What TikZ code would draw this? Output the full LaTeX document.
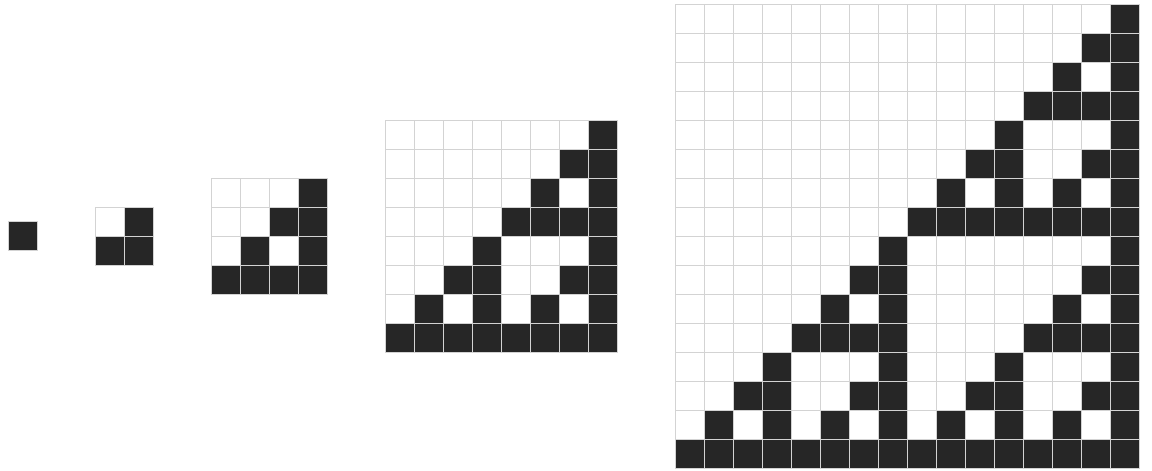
\documentclass[tikz,border=0pt]{standalone}
\definecolor{cellblack}{HTML}{262626}
\definecolor{gridgray}{HTML}{D3D3D3}
\tikzset{cell/.style={draw=gridgray, line width=0.9pt}}
\begin{document}
\begin{tikzpicture}[x=1pt,y=-1pt]
\useasboundingbox (0,0) rectangle (1152,471);
\foreach \X/\Y/\N in {8/221/1, 95/207/2, 211/178/4, 385/120/8, 675/4/16}{
  \pgfmathtruncatemacro\M{\N-1}
  \foreach \r in {0,...,\M}{
    \foreach \c in {0,...,\M}{
      \pgfmathtruncatemacro\ii{\M-\c}
      \pgfmathtruncatemacro\ok{(1-mod(\ii,2)*(1-mod(\r,2)))*(1-mod(floor(\ii/2),2)*(1-mod(floor(\r/2),2)))*(1-mod(floor(\ii/4),2)*(1-mod(floor(\r/4),2)))*(1-mod(floor(\ii/8),2)*(1-mod(floor(\r/8),2)))}
      \ifnum\ok=1 \def\fc{cellblack}\else\def\fc{white}\fi
      \draw[cell, fill=\fc] (\X+\c*29, \Y+\r*29) rectangle ++(29,29);
    }
  }
}
\end{tikzpicture}
\end{document}
